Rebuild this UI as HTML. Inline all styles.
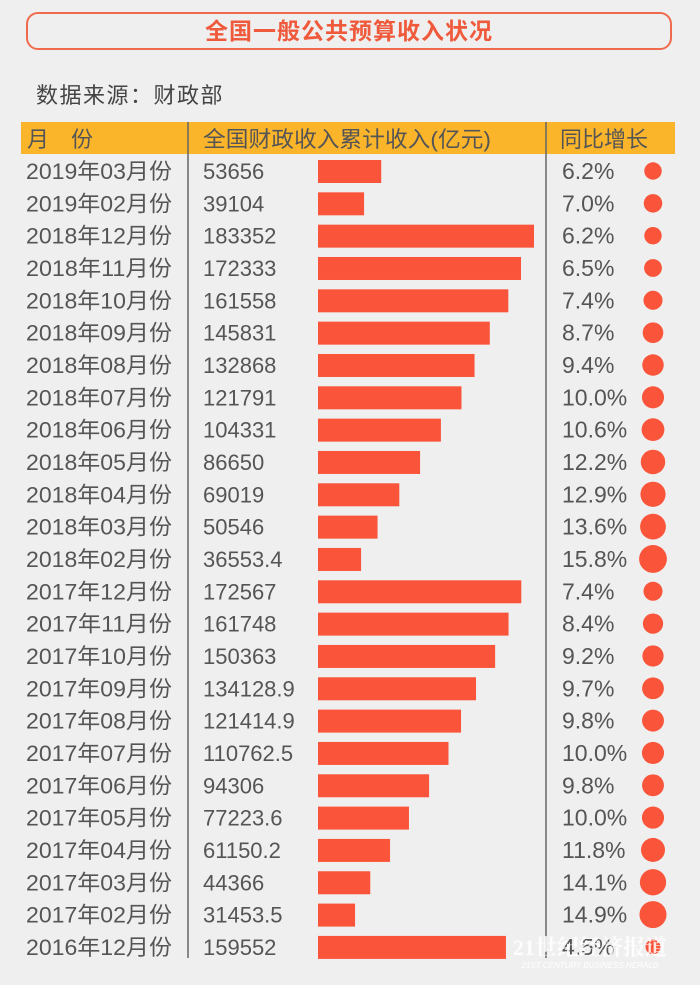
<!DOCTYPE html>
<html><head><meta charset="utf-8"><style>
body{margin:0;width:700px;height:985px;background:#efefef;font-family:"Liberation Sans","Noto Sans CJK SC",sans-serif;overflow:hidden;position:relative}
#title{position:absolute;left:26px;top:12px;width:646px;height:38px;border:2px solid #f06a4e;border-radius:12px;box-sizing:border-box;text-align:center;line-height:34px;color:#f05a3c;font-size:23px;font-weight:bold;letter-spacing:1px}
#src{position:absolute;left:36px;top:78px;font-size:22px;color:#444;letter-spacing:1.5px}
svg{position:absolute;left:0;top:0}
</style></head><body>
<div id="title">全国一般公共预算收入状况</div>
<div id="src">数据来源：财政部</div>
<svg id="chart" width="700" height="985"></svg>
<script>
const months=["2019年03月份","2019年02月份","2018年12月份","2018年11月份","2018年10月份","2018年09月份","2018年08月份","2018年07月份","2018年06月份","2018年05月份","2018年04月份","2018年03月份","2018年02月份","2017年12月份","2017年11月份","2017年10月份","2017年09月份","2017年08月份","2017年07月份","2017年06月份","2017年05月份","2017年04月份","2017年03月份","2017年02月份","2016年12月份"];
const revenue=[53656,39104,183352,172333,161558,145831,132868,121791,104331,86650,69019,50546,36553.4,172567,161748,150363,134128.9,121414.9,110762.5,94306,77223.6,61150.2,44366,31453.5,159552];
const growth=[6.2,7.0,6.2,6.5,7.4,8.7,9.4,10.0,10.6,12.2,12.9,13.6,15.8,7.4,8.4,9.2,9.7,9.8,10.0,9.8,10.0,11.8,14.1,14.9,4.5];
const NS="http://www.w3.org/2000/svg";
const svg=document.getElementById('chart');
function mk(t,a,p){const e=document.createElementNS(NS,t);for(const k in a)e.setAttribute(k,a[k]);(p||svg).appendChild(e);return e;}
const x=v=>318+v*216/183352;
const y=i=>171+i*32.33;
const r=v=>3.5*Math.sqrt(v);
const hdr=mk('rect',{x:21,y:122,width:654,height:32,fill:'#fbb52b'});


[["月　份",27,'header-month',null],["全国财政收入累计收入(亿元)",203,'header-revenue',288],["同比增长",560,'header-growth',88]].forEach(h=>{
 const a={x:h[1],y:147,'font-size':22,fill:'#555'};if(h[3]){a.textLength=h[3];a.lengthAdjust='spacingAndGlyphs';}
 const t=mk('text',a);t.textContent=h[0];
 
 
});
[188,546].forEach((lx,k)=>{const l=mk('line',{x1:lx,y1:122,x2:lx,y2:958,stroke:'#666','stroke-width':1.5});
 
 });
months.forEach((m,i)=>{
 const cy=y(i);
 const g=mk('g',{});
 
 
 const t1=mk('text',{x:26,y:cy+8,'font-size':22,fill:'#555',textLength:146,lengthAdjust:'spacingAndGlyphs'},g);t1.textContent=m;
 
 
 const t2=mk('text',{x:203,y:cy+8,'font-size':22,fill:'#555'},g);t2.textContent=String(revenue[i]);
 
 
 const b=mk('rect',{x:x(0),y:cy-11,width:x(revenue[i])-x(0),height:23,fill:'#fa553a'},g);
 
 
 const t3=mk('text',{x:562,y:cy+8,'font-size':23,fill:'#555'},g);t3.textContent=growth[i].toFixed(1)+'%';
 
 
 const c=mk('circle',{cx:653,cy:cy,r:r(growth[i]),fill:'#fa553a'},g);
 
 
});
const w=mk('text',{x:590,y:955,'font-size':22,'font-weight':'bold',fill:'#fff','fill-opacity':0.85,'text-anchor':'middle','font-family':'Liberation Serif, Noto Serif CJK SC, serif'});w.textContent='21世纪经济报道';


const w2=mk('text',{x:590,y:968,'font-size':8,'font-style':'italic',fill:'#fff','text-anchor':'middle'});w2.textContent='21ST CENTURY BUSINESS HERALD';


</script>
</body></html>
